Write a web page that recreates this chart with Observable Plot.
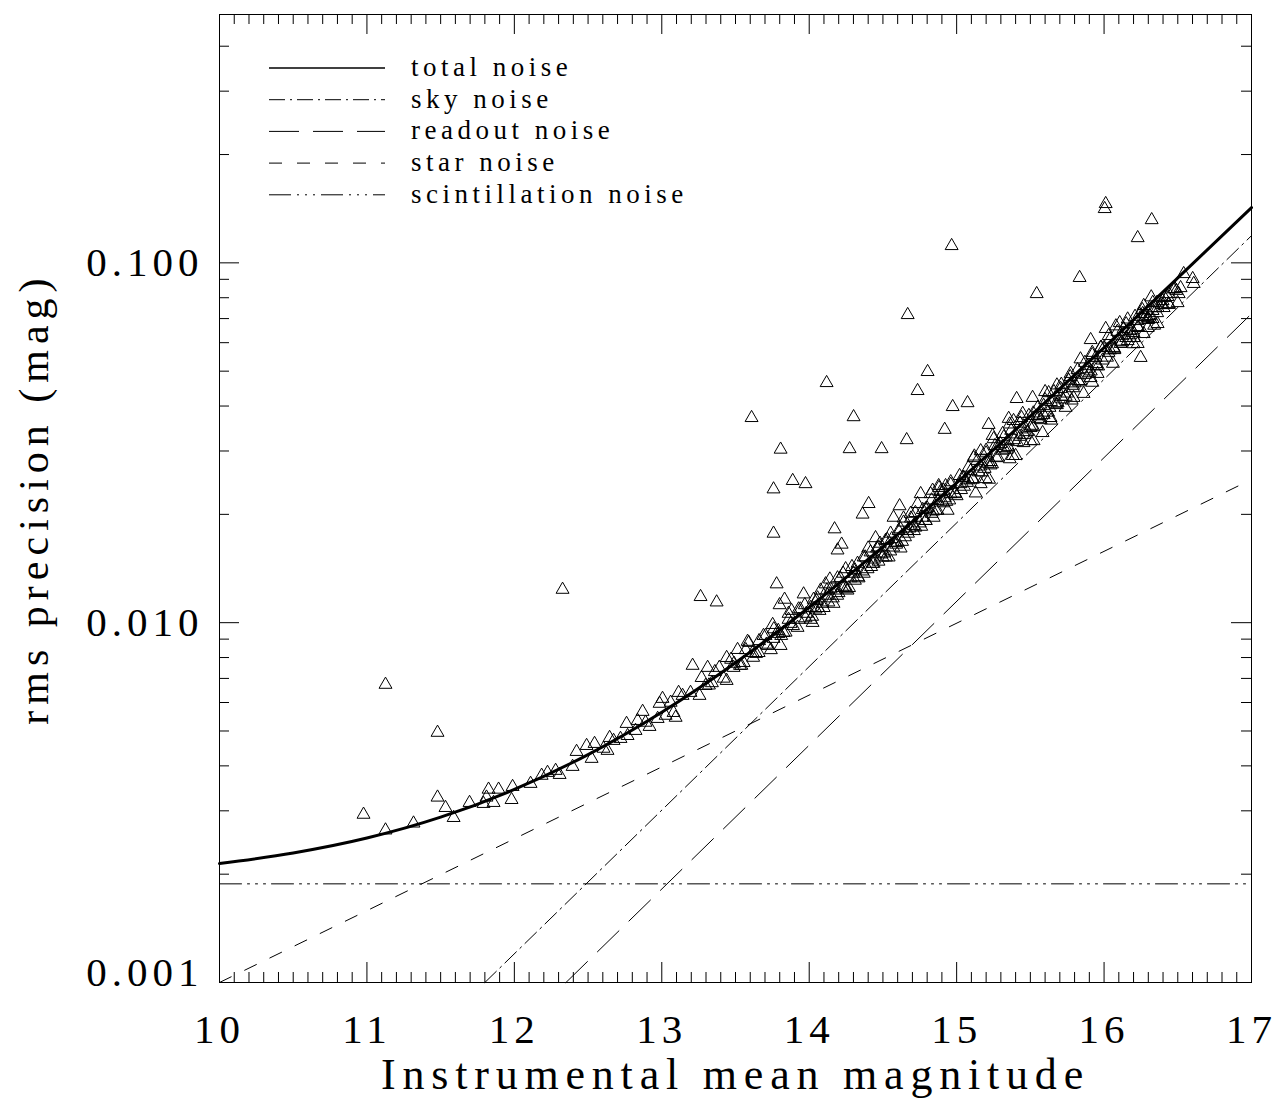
<!DOCTYPE html>
<html>
<head>
<meta charset="utf-8">
<script src="https://cdn.jsdelivr.net/npm/d3@7"></script>
<script src="https://cdn.jsdelivr.net/npm/@observablehq/plot@0.6"></script>
<style>
  html, body { margin: 0; padding: 0; background: #fff; }
  #chart { position: relative; width: 1279px; height: 1101px; overflow: hidden; background: #fff; }
  #chart svg { font-family: "Liberation Serif", "Times New Roman", serif; }
  #legend { position: absolute; left: 0; top: 0; pointer-events: none; }
  #legend text { letter-spacing: 4.5px; }
</style>
</head>
<body>
<div id="chart"></div>
<script>
// ---------------- data ----------------
const xMajorTicks = [10, 11, 12, 13, 14, 15, 16, 17];
const xTickLabels = ["10", "11", "12", "13", "14", "15", "16", "17"];
const yMajorTicks = [0.001, 0.01, 0.1];
const yTickLabels = ["0.001", "0.010", "0.100"];

const xTitle = "Instrumental mean magnitude";
const yTitle = "rms precision (mag)";
const legendLabels = ["total noise", "sky noise", "readout noise", "star noise", "scintillation noise"];

// total noise curve
const totalMag = [10, 10.5, 11, 11.5, 12, 12.5, 13, 13.5, 14, 14.5, 15, 15.5, 16, 16.5, 17];
const totalRms = [0.00214, 0.00229, 0.00252, 0.00288, 0.00344, 0.00430, 0.00564, 0.00774,
                  0.01104, 0.01624, 0.02446, 0.03748, 0.05811, 0.0908, 0.1424];
// component noise lines (straight in log space)
const skyMag = [11.8, 17];       const skyRms = [0.001, 0.119];
const readoutMag = [12.35, 17];  const readoutRms = [0.001, 0.0722];
const starNoiseMag = [10, 17];   const starNoiseRms = [0.001, 0.0250];
const scintMag = [10, 17];       const scintRms = [0.00188, 0.00188];

// measured stars: [instrumental mean magnitude, rms precision]
const stars = [
  [10.977,0.00293],[11.126,0.00673],[11.126,0.00265],[11.316,0.00277],[11.479,0.00495],
  [11.479,0.00327],[11.533,0.00306],[11.588,0.00287],[11.696,0.00316],[11.791,0.00314],
  [11.811,0.00327],[11.825,0.00344],[11.859,0.00316],[11.893,0.00344],[11.981,0.00322],
  [11.988,0.00350],[12.110,0.00357],[12.185,0.00376],[12.225,0.00383],[12.280,0.00388],
  [12.307,0.00378],[12.327,0.01236],[12.395,0.00398],[12.422,0.00438],[12.490,0.00455],
  [12.524,0.00419],[12.544,0.00461],[12.605,0.00447],[12.632,0.00441],[12.646,0.00479],
  [12.673,0.00470],[12.720,0.00476],[12.761,0.00524],[12.768,0.00485],[12.822,0.00501],
  [12.836,0.00534],[12.870,0.00566],[12.890,0.00528],[12.917,0.00514],[12.972,0.00541],
  [12.985,0.00596],[13.005,0.00615],[13.026,0.00552],[13.060,0.00600],[13.080,0.00562],
  [13.094,0.00545],[13.114,0.00639],[13.141,0.00627],[13.195,0.00639],[13.209,0.00760],
  [13.256,0.00627],[13.263,0.0118],[13.270,0.00703],[13.297,0.00668],[13.311,0.00750],
  [13.372,0.0114],[13.440,0.00799],[13.487,0.00750],[13.514,0.00841],[13.555,0.00774],
  [13.582,0.00886],[13.609,0.0371],[13.616,0.00825],[13.657,0.00825],[13.704,0.00920],
  [13.718,0.00863],[13.752,0.00987],[13.758,0.00903],[13.758,0.0235],[13.758,0.0177],
  [13.779,0.0128],[13.792,0.00932],[13.799,0.0112],[13.806,0.00863],[13.806,0.0303],
  [13.826,0.00938],[13.833,0.0116],[13.860,0.0106],[13.874,0.00994],[13.888,0.0248],
  [13.921,0.00969],[13.928,0.0109],[13.962,0.0120],[13.975,0.0103],[13.975,0.0243],
  [14.009,0.0110],[14.023,0.0100],[14.043,0.0109],[14.057,0.0117],[14.077,0.0123],
  [14.098,0.0110],[14.111,0.0128],[14.118,0.0464],[14.125,0.0119],[14.145,0.0124],
  [14.165,0.0113],[14.172,0.0182],[14.192,0.0133],[14.192,0.0159],[14.199,0.0121],
  [14.220,0.0165],[14.226,0.0125],[14.247,0.0141],[14.260,0.0123],[14.274,0.0304],
  [14.281,0.0133],[14.301,0.0137],[14.301,0.0373],[14.328,0.0146],[14.335,0.0133],
  [14.362,0.0200],[14.369,0.0152],[14.396,0.0141],[14.403,0.0214],[14.416,0.0157],
  [14.437,0.0146],[14.450,0.0172],[14.471,0.0162],[14.491,0.0304],[14.498,0.0152],
  [14.518,0.0169],[14.539,0.0152],[14.552,0.0177],[14.572,0.0196],[14.586,0.0167],
  [14.606,0.0180],[14.613,0.0211],[14.620,0.0161],[14.640,0.0190],[14.661,0.0322],
  [14.667,0.0180],[14.668,0.0717],[14.688,0.0201],[14.708,0.0186],[14.735,0.0214],
  [14.735,0.0441],[14.756,0.0228],[14.769,0.0196],[14.790,0.0207],[14.803,0.0498],
  [14.823,0.0228],[14.837,0.0233],[14.844,0.0196],[14.871,0.0218],[14.878,0.0240],
  [14.912,0.0233],[14.919,0.0344],[14.925,0.0240],[14.939,0.0205],[14.959,0.0228],
  [14.966,0.1115],[14.973,0.0398],[15.027,0.0243],[15.047,0.0253],[15.074,0.0408],
  [15.095,0.0264],[15.115,0.0287],[15.129,0.0229],[15.163,0.0243],[15.163,0.0300],
  [15.197,0.0251],[15.210,0.0277],[15.217,0.0355],[15.244,0.0331],[15.251,0.0324],
  [15.298,0.0314],[15.312,0.0335],[15.346,0.0320],[15.353,0.0369],[15.380,0.0291],
  [15.386,0.0364],[15.400,0.0291],[15.407,0.0419],[15.448,0.0381],[15.454,0.0316],
  [15.502,0.0348],[15.515,0.0422],[15.522,0.0320],[15.543,0.0820],[15.549,0.0376],
  [15.583,0.0337],[15.590,0.0401],[15.624,0.0435],[15.637,0.0371],[15.685,0.0408],
  [15.705,0.0447],[15.739,0.0396],[15.773,0.0492],[15.793,0.0422],[15.827,0.0470],
  [15.834,0.0909],[15.861,0.0433],[15.888,0.0517],[15.909,0.0479],[15.909,0.0611],
  [15.943,0.0545],[15.956,0.0492],[15.977,0.0581],[16.004,0.1413],[16.011,0.1459],
  [16.011,0.0656],[16.031,0.0627],[16.065,0.0581],[16.106,0.0681],[16.112,0.0596],
  [16.133,0.0656],[16.160,0.0607],[16.180,0.0647],[16.201,0.0619],[16.228,0.0690],
  [16.228,0.0596],[16.228,0.1173],[16.248,0.0545],[16.262,0.0722],[16.269,0.0760],
  [16.269,0.0635],[16.296,0.0703],[16.296,0.0660],[16.323,0.1316],[16.329,0.0736],
  [16.329,0.0699],[16.363,0.0750],[16.363,0.0677],[16.397,0.0784],[16.404,0.0750],
  [16.438,0.0769],[16.499,0.0774],[16.506,0.0820],[16.519,0.0852],[16.540,0.0932],
  [16.601,0.0903],[16.608,0.0875],
  [13.32,0.0067],[13.36,0.0073],[13.42,0.0070],[13.47,0.0079],[13.53,0.0076],
  [13.57,0.0084],[13.62,0.0080],[13.66,0.0089],[13.71,0.0087],[13.76,0.0096],
  [13.81,0.0092],[13.86,0.0102],[13.89,0.0098],[13.94,0.0109],[13.98,0.0106],
  [14.03,0.0116],[14.06,0.0110],[14.12,0.0123],[14.16,0.0117],[14.21,0.0133],
  [14.24,0.0126],[14.29,0.0143],[14.33,0.0134],[14.38,0.0152],[14.42,0.0143],
  [14.46,0.0161],[14.49,0.0155],[14.53,0.0170],[14.57,0.0162],[14.62,0.0182],
  [14.65,0.0173],[14.69,0.0195],[14.72,0.0184],[14.77,0.0206],[14.79,0.0192],
  [14.83,0.0219],[14.86,0.0205],[14.89,0.0231],[14.93,0.0217],[14.96,0.0242],
  [14.99,0.0228],[15.02,0.0256],[15.05,0.0239],[15.08,0.0270],[15.11,0.0250],
  [15.14,0.0282],[15.17,0.0262],[15.20,0.0296],[15.23,0.0274],[15.26,0.0310],
  [15.28,0.0288],[15.32,0.0328],[15.34,0.0303],[15.37,0.0342],[15.41,0.0318],
  [15.43,0.0358],[15.46,0.0333],[15.49,0.0376],[15.52,0.0350],[15.55,0.0396],
  [15.57,0.0366],[15.60,0.0416],[15.62,0.0384],[15.66,0.0438],[15.68,0.0403],
  [15.71,0.0459],[15.74,0.0425],[15.77,0.0482],[15.79,0.0449],[15.82,0.0504],
  [15.84,0.0470],[15.87,0.0528],[15.90,0.0494],[15.92,0.0555],[15.95,0.0518],
  [15.98,0.0582],[16.02,0.0546],[16.04,0.0613],[16.07,0.0573],[16.09,0.0644],
  [16.12,0.0602],[16.15,0.0676],[16.17,0.0630],[16.21,0.0709],[16.23,0.0660],
  [16.26,0.0740],[16.30,0.0695],[16.33,0.0775],[16.36,0.0726],[16.41,0.0800],
  [16.44,0.0765],[16.47,0.0845],
  [13.34,0.0068],[13.39,0.0075],[13.44,0.0069],[13.49,0.0077],[13.54,0.0076],
  [13.59,0.0088],[13.64,0.0082],[13.69,0.0092],[13.74,0.0084],[13.79,0.0095],
  [13.84,0.0094],[13.88,0.0108],[13.93,0.0102],[13.97,0.0112],[14.01,0.0102],
  [14.05,0.0115],[14.09,0.0113],[14.14,0.0132],[14.18,0.0123],[14.23,0.0137],
  [14.27,0.0125],[14.31,0.0140],[14.36,0.0139],[14.40,0.0161],[14.44,0.0150],
  [14.48,0.0166],[14.52,0.0152],[14.56,0.0171],[14.60,0.0167],[14.64,0.0195],
  [14.68,0.0183],[14.72,0.0202],[14.76,0.0185],[14.80,0.0208],[14.84,0.0204],
  [14.88,0.0237],[14.92,0.0222],[14.96,0.0246],[15.00,0.0225],[15.04,0.0253],
  [15.08,0.0249],[15.12,0.0290],[15.16,0.0272],[15.20,0.0301],[15.24,0.0276],
  [15.28,0.0311],[15.32,0.0306],[15.36,0.0356],[15.40,0.0334],[15.44,0.0371],
  [15.48,0.0339],[15.52,0.0382],[15.56,0.0375],[15.60,0.0438],[15.64,0.0411],
  [15.68,0.0457],[15.72,0.0418],[15.76,0.0471],[15.80,0.0463],[15.84,0.0540],
  [15.88,0.0507],[15.92,0.0563],[15.96,0.0516],[16.00,0.0581],[16.04,0.0572],
  [16.08,0.0667],[16.12,0.0628],[16.16,0.0697],[16.20,0.0639],[16.24,0.0720],
  [16.28,0.0708],[16.32,0.0803],[16.36,0.0776],[16.40,0.0764],[16.44,0.0820],
  [16.48,0.0847],
  [15.22,0.0250],[15.36,0.0285],[15.50,0.0320],[15.64,0.0365],[15.78,0.0415],
  [15.92,0.0465],[16.06,0.0525],[16.20,0.0595],[16.34,0.0670],
  [14.02,0.0104],[14.07,0.0108],[14.13,0.0114],[14.19,0.0119],[14.25,0.0124],
  [14.31,0.0131],[14.37,0.0137],[14.43,0.0146],[14.47,0.0148],[14.51,0.0156],
  [14.55,0.0158],[14.59,0.0165],[14.63,0.0168],[14.67,0.0177],[14.71,0.0180],
  [14.75,0.0189],[14.79,0.0192],[14.83,0.0201],[14.87,0.0205],[14.91,0.0215],
  [14.95,0.0219],[14.99,0.0229],[15.03,0.0234],[15.07,0.0245],[15.11,0.0251],
  [15.15,0.0262],[15.19,0.0268],[15.23,0.0280],[15.27,0.0287],[15.31,0.0301],
  [15.35,0.0308],[15.39,0.0322],[15.43,0.0329],[15.47,0.0345],[15.51,0.0353],
  [15.55,0.0369],[15.59,0.0378],[15.63,0.0396],[15.67,0.0405],[15.71,0.0425],
  [15.75,0.0434],[15.79,0.0456],[15.83,0.0466],[15.87,0.0489],[15.91,0.0500],
  [15.95,0.0524],[15.99,0.0536],[16.03,0.0563],[16.07,0.0576],[16.11,0.0605],
  [16.15,0.0619],[16.19,0.0650],[16.23,0.0664],[16.27,0.0697],[16.31,0.0713],
  [16.35,0.0749],[16.39,0.0766],[16.43,0.0805],[16.49,0.0837]
];

// ---------------- layout / style ----------------
const W = 1279, H = 1101;
const ML = 219, MR = 28, MT = 14, MB = 119;
const plotW = W - ML - MR, plotH = H - MT - MB;
const MAJ = 20, MIN = 10;

const dashes = {
  sky: "16,5,2,5",
  readout: "30,14",
  star: "13,15",
  scint: "22,6,2,6,2,6,2,6"
};

const xMinorTicks = d3.range(100, 171).filter(i => i % 10 !== 0).map(i => i / 10);
const yMinorTicks = yMajorTicks.flatMap(d => d3.range(2, 10).map(k => k * d)).filter(v => v < 0.49);

const toPts = (xs, ys) => xs.map((x, i) => ({x, y: ys[i]}));
const yLabel = d => yTickLabels[yMajorTicks.findIndex(t => Math.abs(t - d) < 1e-9)];

const chart = Plot.plot({
  width: W,
  height: H,
  marginLeft: ML, marginRight: MR, marginTop: MT, marginBottom: MB,
  style: {fontSize: "41px", fontFamily: '"Liberation Serif", "Times New Roman", serif', color: "black", background: "white"},
  x: {domain: [10, 17]},
  y: {type: "log", domain: [0.001, 0.49]},
  marks: [
    // ticks (inward, all four sides)
    Plot.ruleX(xMajorTicks, {insetTop: plotH - MAJ, stroke: "black"}),
    Plot.ruleX(xMajorTicks, {insetBottom: plotH - MAJ, stroke: "black"}),
    Plot.ruleX(xMinorTicks, {insetTop: plotH - MIN, stroke: "black"}),
    Plot.ruleX(xMinorTicks, {insetBottom: plotH - MIN, stroke: "black"}),
    Plot.ruleY(yMajorTicks, {insetRight: plotW - MAJ, stroke: "black"}),
    Plot.ruleY(yMajorTicks, {insetLeft: plotW - MAJ, stroke: "black"}),
    Plot.ruleY(yMinorTicks, {insetRight: plotW - MIN, stroke: "black"}),
    Plot.ruleY(yMinorTicks, {insetLeft: plotW - MIN, stroke: "black"}),
    // noise model lines
    Plot.line(toPts(scintMag, scintRms), {x: "x", y: "y", stroke: "black", strokeWidth: 1, strokeDasharray: dashes.scint}),
    Plot.line(toPts(starNoiseMag, starNoiseRms), {x: "x", y: "y", stroke: "black", strokeWidth: 1, strokeDasharray: dashes.star}),
    Plot.line(toPts(readoutMag, readoutRms), {x: "x", y: "y", stroke: "black", strokeWidth: 1, strokeDasharray: dashes.readout}),
    Plot.line(toPts(skyMag, skyRms), {x: "x", y: "y", stroke: "black", strokeWidth: 1, strokeDasharray: dashes.sky}),
    // stars
    Plot.dot(stars, {x: d => d[0], y: d => d[1], symbol: "triangle", r: 4.8, fill: "none", stroke: "black", strokeWidth: 1}),
    // total noise
    Plot.line(toPts(totalMag, totalRms), {x: "x", y: "y", stroke: "black", strokeWidth: 3, curve: "monotone-x"}),
    Plot.frame({stroke: "black", strokeWidth: 1}),
    // axes labels
    Plot.axisX(xMajorTicks, {tickSize: 0, tickPadding: 31, label: null,
      tickFormat: d => xTickLabels[xMajorTicks.indexOf(d)], fontSize: 41}),
    Plot.axisY(yMajorTicks.slice(1), {tickSize: 0, tickPadding: 16, label: null,
      tickFormat: yLabel, fontSize: 41}),
    Plot.axisY(yMajorTicks.slice(0, 1), {tickSize: 0, tickPadding: 16, label: null,
      tickFormat: yLabel, fontSize: 41, dy: -10}),
    Plot.text([xTitle], {frameAnchor: "bottom", lineAnchor: "middle", textAnchor: "middle", dy: 92, fontSize: 44, fill: "black"}),
    Plot.text([yTitle], {frameAnchor: "left", lineAnchor: "middle", textAnchor: "middle", dx: -185, rotate: -90, fontSize: 42, fill: "black"})
  ]
});

const container = document.getElementById("chart");
container.appendChild(chart);

// letter spacing to mimic the wide vector font of the original
d3.select(chart).selectAll("text").each(function () {
  const t = this.textContent;
  if (t === xTitle) this.style.letterSpacing = "6.8px";
  else if (t === yTitle) this.style.letterSpacing = "6px";
  else if (xTickLabels.includes(t) || yTickLabels.includes(t)) this.style.letterSpacing = "5px";
});

// legend (inside the frame, upper left)
const legend = d3.select(container).append("svg")
  .attr("id", "legend")
  .attr("width", W).attr("height", H)
  .style("font-family", '"Liberation Serif", "Times New Roman", serif');

const legendStyles = [
  {dash: null, width: 1.6},
  {dash: dashes.sky, width: 1},
  {dash: dashes.readout, width: 1},
  {dash: dashes.star, width: 1},
  {dash: dashes.scint, width: 1}
];
const legX0 = 269, legX1 = 385, legTextX = 411, legY0 = 68, legDy = 31.7;
legendLabels.forEach((label, i) => {
  const y = legY0 + i * legDy;
  const ln = legend.append("line")
    .attr("x1", legX0).attr("x2", legX1).attr("y1", y).attr("y2", y)
    .attr("stroke", "black").attr("stroke-width", legendStyles[i].width);
  if (legendStyles[i].dash) ln.attr("stroke-dasharray", legendStyles[i].dash);
  legend.append("text")
    .attr("x", legTextX).attr("y", y + 8)
    .attr("font-size", 27)
    .attr("fill", "black")
    .text(label);
});
</script>
</body>
</html>
